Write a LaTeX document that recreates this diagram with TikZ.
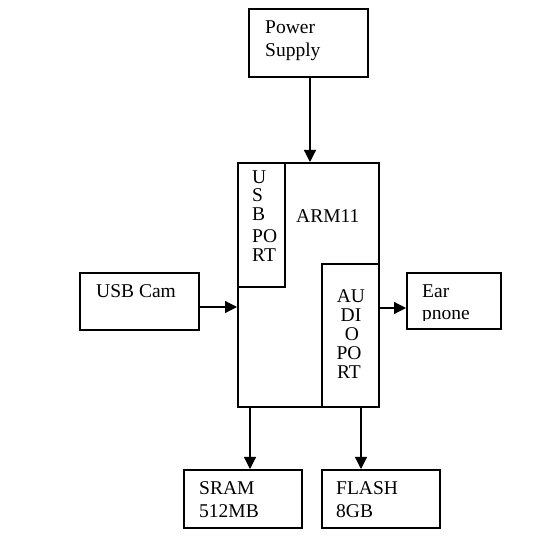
\documentclass[tikz,border=0pt]{standalone}
\usepackage{fontspec}
\setmainfont{Liberation Serif}
\usetikzlibrary{arrows.meta}
\begin{document}
\begin{tikzpicture}[x=1pt,y=-1pt,
  box/.style={draw,line width=2pt,inner sep=0pt,anchor=north west},
  txt/.style={inner sep=0pt,anchor=base west,font=\fontsize{19.5}{23}\selectfont},
  ctxt/.style={inner sep=0pt,anchor=base,font=\fontsize{19.5}{23}\selectfont},
  arr/.style={line width=1.2pt,-{Triangle[length=12pt,width=12pt]}}]
\useasboundingbox (0,0) rectangle (555,545);
% boxes
\node[box,minimum width=119pt,minimum height=68pt] (ps) at (248,8) {};
\node[box,minimum width=141pt,minimum height=244pt] (arm) at (237,162) {};
\node[box,minimum width=47pt,minimum height=124pt] (usbp) at (237,162) {};
\node[box,minimum width=57pt,minimum height=143pt] (audp) at (321,263) {};
\node[box,minimum width=119pt,minimum height=57pt] (cam) at (79,272) {};
\node[box,minimum width=94pt,minimum height=56pt] (ear) at (406,272) {};
\node[box,minimum width=118pt,minimum height=58pt] (sram) at (183,469) {};
\node[box,minimum width=118pt,minimum height=58pt] (flash) at (321,469) {};
% texts
\node[txt] (t1) at (265,34) {Power};
\node[txt] (t2) at (265,57) {Supply};
\node[txt] (t3) at (296,223) {ARM11};
\node[txt] (u1) at (252,184) {U};
\node[txt] (u2) at (252,202) {S};
\node[txt] (u3) at (252,221) {B};
\node[txt] (u4) at (252,243) {PO};
\node[txt] (u5) at (252,262) {RT};
\node[ctxt] (a1) at (351,303) {AU};
\node[ctxt] (a2) at (351,322) {DI};
\node[ctxt] (a3) at (352,341) {O};
\node[ctxt] (a4) at (349,360) {PO};
\node[ctxt] (a5) at (349,379) {RT};
\node[txt] (t4) at (96,298) {USB Cam};
\node[txt] (t5) at (422,298) {Ear};
\begin{scope}
\clip (406,311) rectangle (500,321);
\node[txt] (t6) at (422,320) {phone};
\end{scope}
\node[txt] (t7) at (199,495) {SRAM};
\node[txt] (t8) at (199,518) {512MB};
\node[txt] (t9) at (336,495) {FLASH};
\node[txt] (t10) at (336,518) {8GB};
% arrows
\draw[arr] ([xshift=1.5pt]ps.south) -- ([xshift=1.5pt]ps.south |- arm.north);
\draw[arr] ([yshift=-5.5pt]cam.east) -- ([yshift=-5.5pt]cam.east -| arm.west);
\draw[arr] ([yshift=-7pt]ear.west -| arm.east) -- ([yshift=-7pt]ear.west);
\draw[arr] ([xshift=7pt]sram.north |- arm.south) -- ([xshift=7pt]sram.north);
\draw[arr] ([xshift=-20pt]flash.north |- arm.south) -- ([xshift=-20pt]flash.north);
\end{tikzpicture}
\end{document}
